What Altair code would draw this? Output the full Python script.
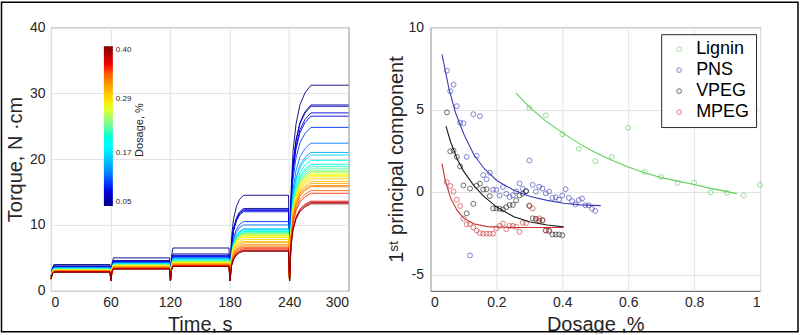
import altair as alt
import pandas as pd

FONT = "Liberation Sans"
INK = "#262626"

# ---------------- left panel: torque vs time ----------------
curve_dosage = [0.05, 0.06, 0.07, 0.08, 0.09, 0.10, 0.12, 0.14, 0.16, 0.18,
                0.20, 0.21, 0.22, 0.23, 0.24, 0.25, 0.26, 0.27, 0.28, 0.29,
                0.30, 0.31, 0.32, 0.33, 0.34, 0.35, 0.36, 0.38, 0.40]
torque_stage1 = [4.0, 3.8, 3.7, 3.7, 3.6, 3.6, 3.5, 3.5, 3.4, 3.4,
                 3.3, 3.3, 3.3, 3.2, 3.2, 3.2, 3.2, 3.1, 3.1, 3.1,
                 3.1, 3.0, 3.0, 3.0, 3.0, 2.9, 2.9, 2.9, 2.8]
torque_stage2 = [5.0, 4.6, 4.5, 4.4, 4.4, 4.3, 4.2, 4.2, 4.1, 4.1,
                 4.0, 4.0, 4.0, 3.9, 3.9, 3.9, 3.8, 3.8, 3.8, 3.7,
                 3.7, 3.6, 3.6, 3.5, 3.5, 3.4, 3.4, 3.3, 3.3]
torque_stage3 = [6.5, 5.6, 5.4, 5.3, 5.2, 5.1, 5.0, 4.9, 4.8, 4.7,
                 4.6, 4.6, 4.5, 4.5, 4.4, 4.4, 4.3, 4.3, 4.2, 4.2,
                 4.1, 4.1, 4.0, 3.9, 3.9, 3.8, 3.8, 3.7, 3.7]
torque_stage4 = [14.5, 12.5, 12.3, 12.0, 12.2, 10.5, 10.0, 9.4, 9.3, 9.2,
                 9.0, 8.9, 8.8, 8.7, 8.6, 8.5, 8.4, 8.3, 8.1, 7.8,
                 7.5, 7.3, 7.0, 6.8, 6.6, 6.4, 6.2, 6.1, 6.0]
torque_stage5 = [31.2, 28.2, 28.0, 27.0, 26.5, 24.8, 22.4, 21.0, 20.6, 19.8,
                 19.2, 18.9, 18.6, 18.3, 18.1, 17.9, 17.7, 17.5, 17.3, 17.0,
                 16.6, 16.3, 16.0, 15.8, 15.2, 14.8, 13.6, 13.4, 13.2]

stage_start_s = [0, 60, 120, 180, 240]
dip_torque = 1.5
# time offsets inside a stage and the share of the step reached
stage_offsets = [
    [0.0, 1.5, 3.0, 59.5],
    [0.5, 1.5, 3.0, 59.5],
    [0.5, 1.5, 3.0, 59.5],
    [0.5, 2.0, 4.0, 7.0, 10.0, 14.0, 59.5],
    [0.5, 2.0, 4.0, 7.0, 11.0, 16.0, 22.0, 60.0],
]
stage_fracs = [
    [0.2, 0.8, 1.0, 1.0],
    [0.0, 0.75, 1.0, 1.0],
    [0.0, 0.75, 1.0, 1.0],
    [0.0, 0.5, 0.72, 0.87, 0.95, 1.0, 1.0],
    [0.0, 0.45, 0.66, 0.8, 0.9, 0.96, 1.0, 1.0],
]

time_ticks = [0, 60, 120, 180, 240, 300]
torque_ticks = [0, 10, 20, 30, 40]

cbar_ticks = [0.05, 0.1667, 0.2833, 0.40]
cbar_labels = ["0.05", "0.17", "0.29", "0.40"]
jet_domain = [0.05, 0.09375, 0.18125, 0.26875, 0.35625, 0.40]
jet_colors = ["#000084", "#0000ff", "#00ffff", "#ffff00", "#ff0000", "#800000"]

# ---------------- right panel: 1st principal component ----------------
series_names = ["Lignin", "PNS", "VPEG", "MPEG"]
series_colors = ["#5fcf5f", "#3c3cb4", "#1a1a1a", "#c83232"]

lignin_x = [0.30, 0.35, 0.40, 0.45, 0.50, 0.55, 0.60, 0.65, 0.70, 0.75, 0.80, 0.85, 0.90, 0.95, 1.00]
lignin_y = [5.1, 4.65, 3.5, 2.62, 1.87, 2.13, 3.9, 1.21, 0.91, 0.55, 0.57, -0.02, -0.06, -0.21, 0.43]

pns_x = [0.05, 0.06, 0.07, 0.08, 0.09, 0.10, 0.11, 0.12, 0.13, 0.14, 0.15, 0.16, 0.17, 0.18,
         0.19, 0.20, 0.21, 0.22, 0.23, 0.24, 0.25, 0.26, 0.27, 0.28, 0.29, 0.30, 0.31, 0.32,
         0.33, 0.34, 0.35, 0.36, 0.37, 0.38, 0.39, 0.40, 0.41, 0.42, 0.43, 0.44, 0.45, 0.46,
         0.47, 0.48, 0.49, 0.50]
pns_y = [7.36, 6.11, 6.51, 5.21, 4.21, 4.17, 2.13, -3.85, 4.72, 2.2, 4.6, 1.03, 0.77, 1.17,
         0.14, 0.13, -0.22, 0.3, -0.1, -0.3, -0.2, 0.03, 0.52, 0.2, 0.05, 1.91, 0.43, 0.02,
         0.32, 0.21, -0.08, 0.02, -0.36, -0.32, -0.47, -0.21, 0.17, -0.36, -0.55, -0.75, -0.49,
         -0.40, -0.81, -0.81, -1.02, -1.15]

vpeg_x = [0.05, 0.06, 0.07, 0.08, 0.09, 0.10, 0.11, 0.12, 0.13, 0.14, 0.15, 0.16, 0.17, 0.18,
          0.19, 0.20, 0.21, 0.22, 0.23, 0.24, 0.25, 0.26, 0.27, 0.28, 0.29, 0.30, 0.31, 0.32,
          0.33, 0.34, 0.35, 0.36, 0.37, 0.38, 0.39, 0.40]
vpeg_y = [4.83, 2.47, 2.51, 2.13, 1.55, 0.40, -1.3, 0.21, -0.72, 0.38, 0.51, 0.15, 0.17, -0.25,
          -1.0, -1.0, -1.02, -1.06, -0.92, -0.79, -0.79, -0.51, -0.21, -0.1, 0.05, -0.85,
          -1.6, -1.64, -1.74, -1.70, -2.34, -2.36, -2.58, -2.58, -2.58, -2.62]

mpeg_x = [0.05, 0.06, 0.07, 0.08, 0.09, 0.10, 0.11, 0.12, 0.13, 0.14, 0.15, 0.16, 0.17, 0.18,
          0.19, 0.20, 0.21, 0.22, 0.23, 0.24, 0.25, 0.26, 0.27, 0.28, 0.29, 0.30, 0.31, 0.32,
          0.33, 0.34, 0.35, 0.36]
mpeg_y = [0.6, 0.36, 0.02, -0.47, -0.85, -1.62, -1.96, -1.94, -2.15, -2.34, -2.49, -2.53,
          -2.53, -2.53, -2.53, -2.21, -2.06, -1.92, -2.26, -2.06, -2.06, -2.11, -2.42, -1.87,
          -1.89, -0.82, -1.0, -1.64, -1.60, -1.75, -2.34, -2.36]

lignin_fit_x = [0.26, 0.30, 0.35, 0.40, 0.45, 0.50, 0.55, 0.60, 0.65, 0.70, 0.75, 0.80, 0.85, 0.90, 0.93]
lignin_fit_y = [6.0, 5.15, 4.3, 3.6, 2.95, 2.4, 1.92, 1.52, 1.17, 0.87, 0.66, 0.45, 0.22, 0.02, -0.1]
pns_fit_x = [0.035, 0.056, 0.076, 0.101, 0.131, 0.162, 0.202, 0.253, 0.303, 0.354, 0.404, 0.455, 0.517]
pns_fit_y = [8.35, 6.27, 4.81, 3.52, 2.29, 1.44, 0.68, 0.11, -0.27, -0.51, -0.68, -0.78, -0.83]
vpeg_fit_x = [0.047, 0.061, 0.081, 0.101, 0.131, 0.162, 0.202, 0.253, 0.303, 0.354, 0.404]
vpeg_fit_y = [4.0, 3.05, 2.0, 1.25, 0.4, -0.27, -0.93, -1.5, -1.82, -2.0, -2.12]
mpeg_fit_x = [0.035, 0.045, 0.061, 0.081, 0.101, 0.131, 0.172, 0.253, 0.404]
mpeg_fit_y = [1.72, 0.68, -0.36, -1.12, -1.59, -1.93, -2.1, -2.16, -2.16]

dosage_ticks = [0, 0.2, 0.4, 0.6, 0.8, 1.0]
pc_ticks = [-5, 0, 5, 10]

# ---------------- tables ----------------
levels_all = [torque_stage1, torque_stage2, torque_stage3, torque_stage4, torque_stage5]
rows = []
for i, d in enumerate(curve_dosage):
    for k, t0 in enumerate(stage_start_s):
        lvl = levels_all[k][i]
        for off, fr in zip(stage_offsets[k], stage_fracs[k]):
            rows.append({"curve": i, "dosage": d, "time": t0 + off,
                         "torque": dip_torque + (lvl - dip_torque) * fr})
torque_df = pd.DataFrame(rows)

pts = []
fits = []
for name, xs, ys, fx, fy in [
    ("Lignin", lignin_x, lignin_y, lignin_fit_x, lignin_fit_y),
    ("PNS", pns_x, pns_y, pns_fit_x, pns_fit_y),
    ("VPEG", vpeg_x, vpeg_y, vpeg_fit_x, vpeg_fit_y),
    ("MPEG", mpeg_x, mpeg_y, mpeg_fit_x, mpeg_fit_y),
]:
    pts += [{"series": name, "dose": a, "pc1": b} for a, b in zip(xs, ys)]
    fits += [{"series": name, "dose": a, "pc1": b} for a, b in zip(fx, fy)]
pts_df = pd.DataFrame(pts)
fit_df = pd.DataFrame(fits)
deco = pd.DataFrame({"k": [0]})

label_expr = " : ".join(
    f"datum.value < {v + 0.01} ? '{t}'" for v, t in zip(cbar_ticks[:-1], cbar_labels[:-1])
) + f" : '{cbar_labels[-1]}'"

# ---------------- left chart ----------------
lines = alt.Chart(torque_df).mark_line(strokeWidth=0.9).encode(
    x=alt.X("time:Q", scale=alt.Scale(domain=[0, 300]),
            axis=alt.Axis(values=time_ticks, title="Time, s", titleY=40,
                          titleBaseline="alphabetic", labelPadding=5)),
    y=alt.Y("torque:Q", scale=alt.Scale(domain=[0, 40]),
            axis=alt.Axis(values=torque_ticks, title="Torque, N ·cm", titleX=-29,
                          titleBaseline="alphabetic", labelPadding=6)),
    color=alt.Color("dosage:Q",
                    scale=alt.Scale(domain=jet_domain, range=jet_colors),
                    legend=alt.Legend(orient="none", legendX=53, legendY=19, title=None,
                                      direction="vertical", gradientLength=160,
                                      gradientThickness=9, values=cbar_ticks,
                                      labelExpr=label_expr, labelFontSize=8,
                                      labelOffset=3, gradientStrokeWidth=0,
                                      labelColor=INK, labelFont=FONT)),
    detail="curve:N",
)

dosage_text = alt.Chart(deco).mark_text(
    text="Dosage, %", angle=270, fontSize=11, font=FONT, color=INK,
    align="center", baseline="middle"
).encode(x=alt.value(89), y=alt.value(103))

cover_left = alt.Chart(deco).mark_rect(color="white").encode(
    x=alt.value(-50), x2=alt.value(370), y=alt.value(306.5), y2=alt.value(320))

border = alt.Chart(deco).mark_rect(filled=False, color="black", strokeWidth=1.5).encode(
    x=alt.value(-49.5), x2=alt.value(748), y=alt.value(-25), y2=alt.value(305))

left = alt.layer(lines, dosage_text, cover_left, border).properties(width=298, height=264)

# ---------------- right chart ----------------
xenc = alt.X("dose:Q", scale=alt.Scale(domain=[0, 1]),
             axis=alt.Axis(values=dosage_ticks, format="~g", title="Dosage ,%",
                           titleY=40, titleBaseline="alphabetic", labelPadding=5))
yenc = alt.Y("pc1:Q", scale=alt.Scale(domain=[-5, 10]),
             axis=alt.Axis(values=pc_ticks, labelExpr="'' + datum.value",
                           title="1ˢᵗ principal component", titleX=-28,
                           titleBaseline="alphabetic", labelPadding=7))

points = alt.Chart(pts_df).mark_point(shape="circle", filled=False, size=24, strokeWidth=0.9).encode(
    x=xenc, y=yenc,
    color=alt.Color("series:N", scale=alt.Scale(domain=series_names, range=series_colors),
                    sort=series_names,
                    legend=alt.Legend(orient="none", legendX=231, legendY=7, title=None,
                                      labelFontSize=18, labelFont=FONT, labelColor="black",
                                      symbolType="circle", symbolSize=22,
                                      symbolStrokeWidth=0.9, strokeColor=INK,
                                      fillColor="white", padding=6, symbolOffset=3,
                                      labelOffset=8, rowPadding=3, columnPadding=0,
                                      cornerRadius=0)),
)

fit_lines = alt.Chart(fit_df).mark_line(strokeWidth=1.1).encode(
    x="dose:Q", y="pc1:Q",
    stroke=alt.Stroke("series:N", scale=alt.Scale(domain=series_names, range=series_colors),
                      legend=None),
    detail="series:N",
)

cover_right = alt.Chart(deco).mark_rect(color="white").encode(
    x=alt.value(-60), x2=alt.value(360), y=alt.value(306.5), y2=alt.value(320))

right = alt.layer(points, fit_lines, cover_right).properties(width=330, height=264)

chart = alt.hconcat(left, right, spacing=82, bounds="flush", padding=0).resolve_scale(
    color="independent"
).configure(font=FONT).configure_axis(
    labelFont=FONT, labelFontSize=14, labelColor=INK,
    titleFont=FONT, titleFontSize=20, titleFontWeight="normal", titleColor=INK,
    gridColor="#e3e3e3", domain=False, ticks=False,
).configure_view(stroke="#555555", strokeWidth=1)

chart.save("out.html", embed_options={"renderer": "svg", "actions": False})
